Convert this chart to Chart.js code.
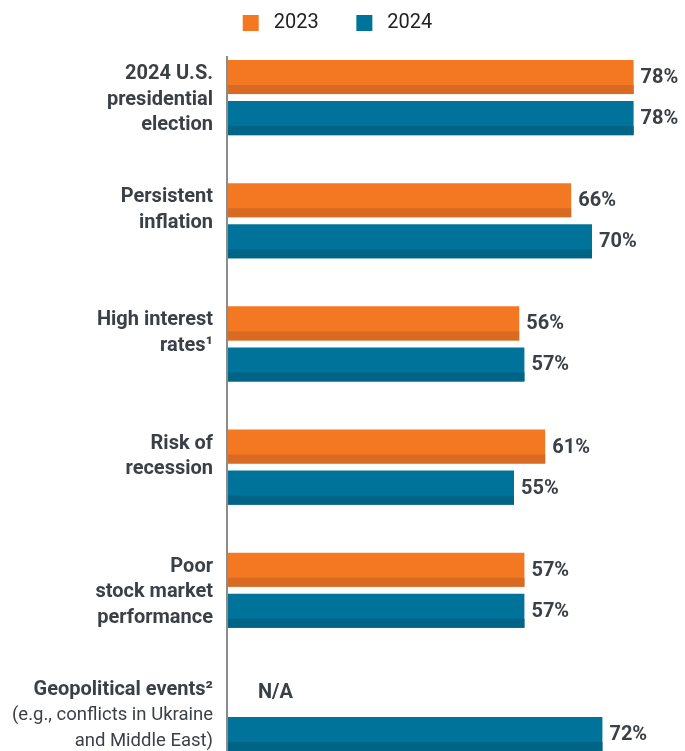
<!DOCTYPE html>
<html><head><meta charset="utf-8">
<script src="https://cdn.jsdelivr.net/npm/chart.js@4"></script>
<style>
html,body{margin:0;padding:0;background:#fff;overflow:hidden;}
#wrap{position:relative;width:685px;height:775px;}
</style></head><body>
<div id="wrap"><canvas id="c"></canvas></div>
<script>
// ---- data ----
const categories = [
  ["2024 U.S.", "presidential", "election"],
  ["Persistent", "inflation"],
  ["High interest", "rates\u00B9"],
  ["Risk of", "recession"],
  ["Poor", "stock market", "performance"],
  ["Geopolitical events\u00B2"]
];
const categoryNotes = [null, null, null, null, null, ["(e.g., conflicts in Ukraine", "and Middle East)"]];
const seriesNames = ["2023", "2024"];
const values2023 = [78, 66, 56, 61, 57, null];
const values2024 = [78, 70, 57, 55, 57, 72];
const missingText = "N/A";

// ---- styles ----
const ORANGE = '#F47721', ORANGE_DARK = '#D86A23';
const BLUE = '#00739A', BLUE_DARK = '#006486';
const TEXT = '#3b3f46';
const FONT = 'Roboto, "Noto Sans", sans-serif';

const decorPlugin = {
  id: 'decor',
  beforeDatasetsDraw(chart) {
    const ctx = chart.ctx, xs = chart.scales.x, ca = chart.chartArea;
    const x0 = xs.getPixelForValue(0);
    ctx.save();
    ctx.fillStyle = '#8c8c8c';
    ctx.fillRect(x0 - 2, ca.top + 20, 2, ca.bottom - ca.top);
    ctx.restore();
  },
  afterDatasetsDraw(chart) {
    const ctx = chart.ctx, xs = chart.scales.x, ys = chart.scales.y, ca = chart.chartArea;
    ctx.save();
    chart.data.datasets.forEach((ds, di) => {
      const meta = chart.getDatasetMeta(di);
      meta.data.forEach((bar, i) => {
        const v = ds.data[i];
        const p = bar.getProps(['x', 'y', 'base', 'height'], true);
        ctx.font = 'bold 20px ' + FONT;
        ctx.fillStyle = TEXT;
        ctx.textBaseline = 'middle';
        ctx.textAlign = 'left';
        if (v == null) {
          ctx.fillText(missingText, xs.getPixelForValue(0) + 30, p.y);
          return;
        }
        ctx.fillStyle = ds.stripeColor;
        ctx.fillRect(p.base, p.y + p.height / 2 - 9, p.x - p.base, 9);
        ctx.fillStyle = TEXT;
        ctx.fillText(v + '%', p.x + 7, p.y + 1);
      });
    });
    // category labels
    const lx = ca.left - 15;
    ctx.textAlign = 'right';
    ctx.textBaseline = 'middle';
    ctx.fillStyle = TEXT;
    categories.forEach((lines, i) => {
      const cy = ys.getPixelForValue(i);
      let k = 0;
      ctx.font = 'bold 20px ' + FONT;
      lines.forEach(t => { ctx.fillText(t, lx, cy - 23.5 + 25.5 * k); k++; });
      if (categoryNotes[i]) {
        ctx.font = '18.5px ' + FONT;
        categoryNotes[i].forEach(t => { ctx.fillText(t, lx, cy - 23.5 + 25.5 * k); k++; });
      }
    });
    ctx.restore();
  }
};

new Chart(document.getElementById('c'), {
  type: 'bar',
  data: {
    labels: categories,
    datasets: [
      { label: seriesNames[0], data: values2023, backgroundColor: ORANGE, stripeColor: ORANGE_DARK, borderWidth: 0 },
      { label: seriesNames[1], data: values2024, backgroundColor: BLUE, stripeColor: BLUE_DARK, borderWidth: 0 }
    ]
  },
  options: {
    indexAxis: 'y',
    responsive: true,
    maintainAspectRatio: false,
    animation: false,
    devicePixelRatio: 1,
    categoryPercentage: 0.6667,
    barPercentage: 0.829,
    layout: { padding: { top: 10, left: 0, right: 10, bottom: 0 } },
    scales: {
      x: { display: false, min: 0, max: 85.96 },
      y: {
        display: true,
        ticks: { display: false },
        grid: { display: false },
        border: { display: false },
        afterFit(scale) { scale.width = 228; }
      }
    },
    plugins: {
      tooltip: { enabled: false },
      legend: {
        display: true,
        position: 'top',
        maxHeight: 26,
        labels: {
          boxWidth: 16, boxHeight: 16, padding: 3,
          color: '#222222',
          font: { family: FONT, size: 20, lineHeight: 1 },
          generateLabels(chart) {
            const items = Chart.defaults.plugins.legend.labels.generateLabels(chart);
            items.forEach((it, i) => {
              it.text = ' ' + it.text + (i < items.length - 1 ? '       ' : '');
              it.lineWidth = 0;
            });
            return items;
          }
        }
      }
    }
  },
  plugins: [decorPlugin]
});
</script>
</body></html>
